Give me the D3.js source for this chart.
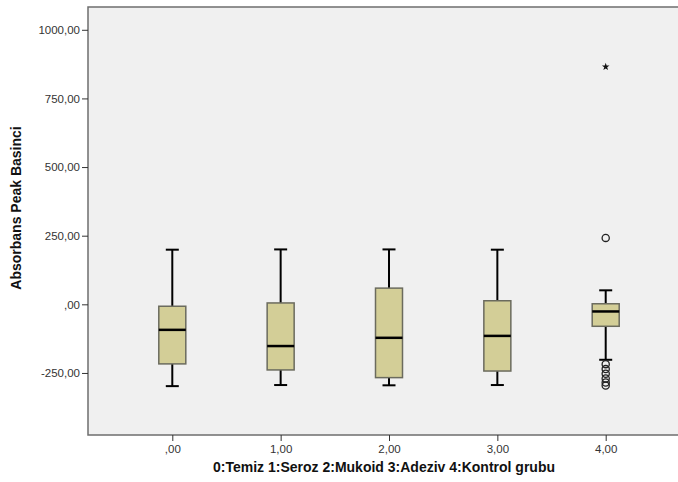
<!DOCTYPE html>
<html>
<head>
<meta charset="utf-8">
<script src="https://cdn.jsdelivr.net/npm/d3@7"></script>
<style>
  html, body { margin: 0; padding: 0; background: #ffffff; }
  svg { display: block; }
  text { font-family: Arial, "Liberation Sans", sans-serif; }
</style>
</head>
<body>
<svg id="chart" width="678" height="482"></svg>
<script>
// Group codes and their axis labels
const groups = [0, 1, 2, 3, 4];
const groupLabels = [",00", "1,00", "2,00", "3,00", "4,00"];

// Five-number summaries per group (Absorbans Peak Basıncı)
const whiskerLow  = [-298, -294, -295, -294, -202];
const boxLow      = [-217, -239, -267, -243, -80];
const medians     = [-93, -152, -122, -115, -26];
const boxHigh     = [-7, 5, 59, 13, 2];
const whiskerHigh = [199, 200, 200, 199, 51];

// Outliers of the control group
const outlierGroup = [4, 4, 4, 4, 4, 4, 4];
const outlierValues = [242, -218, -236, -253, -270, -285, -296];
// Extreme value of the control group
const extremeGroup = [4];
const extremeValues = [865];

// Y-axis ticks
const yTicks = [-250, 0, 250, 500, 750, 1000];
const yTickLabels = ["-250,00", ",00", "250,00", "500,00", "750,00", "1000,00"];

const svg = d3.select("#chart");
const plot = { left: 88, top: 7, right: 690, bottom: 435 };

const x = d3.scalePoint()
  .domain(groups)
  .range([plot.left, plot.right])
  .padding(0.778);

const y = d3.scaleLinear()
  .domain([-476, 1083])
  .range([plot.bottom, plot.top]);

// Plot background and frame
svg.append("rect")
  .attr("x", plot.left).attr("y", plot.top)
  .attr("width", plot.right - plot.left).attr("height", plot.bottom - plot.top)
  .attr("fill", "#f0f0f0")
  .attr("stroke", "#6e6e6e")
  .attr("stroke-width", 1.5);

// Y axis
const yAxis = d3.axisLeft(y)
  .tickValues(yTicks)
  .tickFormat((d, i) => yTickLabels[i])
  .tickSize(6)
  .tickPadding(2);
const gy = svg.append("g")
  .attr("transform", `translate(${plot.left},0)`)
  .call(yAxis);
gy.select(".domain").remove();
gy.selectAll(".tick line").attr("stroke", "#333").attr("stroke-width", 1);
gy.selectAll(".tick text").attr("fill", "#333").attr("font-size", "11.5px");

// X axis
const xAxis = d3.axisBottom(x)
  .tickFormat((d, i) => groupLabels[i])
  .tickSize(6)
  .tickPadding(4);
const gx = svg.append("g")
  .attr("transform", `translate(0,${plot.bottom})`)
  .call(xAxis);
gx.select(".domain").remove();
gx.selectAll(".tick line").attr("stroke", "#333").attr("stroke-width", 1);
gx.selectAll(".tick text").attr("fill", "#333").attr("font-size", "11.5px");

// Axis titles
svg.append("text")
  .attr("transform", `translate(21,208) rotate(-90)`)
  .attr("text-anchor", "middle")
  .attr("font-size", "14px")
  .attr("font-weight", "bold")
  .attr("fill", "#111")
  .text("Absorbans Peak Basinci");

svg.append("text")
  .attr("x", 384).attr("y", 472)
  .attr("text-anchor", "middle")
  .attr("font-size", "14px")
  .attr("font-weight", "bold")
  .attr("fill", "#111")
  .text("0:Temiz 1:Seroz 2:Mukoid 3:Adeziv 4:Kontrol grubu");

// Box plots
const boxW = 27, capW = 13;
const data = groups.map((g, i) => ({
  g, lo: whiskerLow[i], q1: boxLow[i], med: medians[i], q3: boxHigh[i], hi: whiskerHigh[i]
}));

const boxes = svg.append("g").selectAll("g").data(data).join("g");

// Whisker stems
boxes.append("line")
  .attr("x1", d => x(d.g)).attr("x2", d => x(d.g))
  .attr("y1", d => y(d.hi)).attr("y2", d => y(d.q3))
  .attr("stroke", "#000").attr("stroke-width", 2);
boxes.append("line")
  .attr("x1", d => x(d.g)).attr("x2", d => x(d.g))
  .attr("y1", d => y(d.q1)).attr("y2", d => y(d.lo))
  .attr("stroke", "#000").attr("stroke-width", 2);
// Whisker caps
boxes.append("line")
  .attr("x1", d => x(d.g) - capW / 2).attr("x2", d => x(d.g) + capW / 2)
  .attr("y1", d => y(d.hi)).attr("y2", d => y(d.hi))
  .attr("stroke", "#000").attr("stroke-width", 2);
boxes.append("line")
  .attr("x1", d => x(d.g) - capW / 2).attr("x2", d => x(d.g) + capW / 2)
  .attr("y1", d => y(d.lo)).attr("y2", d => y(d.lo))
  .attr("stroke", "#000").attr("stroke-width", 2);
// Boxes
boxes.append("rect")
  .attr("x", d => x(d.g) - boxW / 2)
  .attr("y", d => y(d.q3))
  .attr("width", boxW)
  .attr("height", d => y(d.q1) - y(d.q3))
  .attr("fill", "#d3ce97")
  .attr("stroke", "#6b6b5e")
  .attr("stroke-width", 1.5);
// Medians
boxes.append("line")
  .attr("x1", d => x(d.g) - boxW / 2).attr("x2", d => x(d.g) + boxW / 2)
  .attr("y1", d => y(d.med)).attr("y2", d => y(d.med))
  .attr("stroke", "#000").attr("stroke-width", 2.5);

// Outlier circles
svg.append("g").selectAll("circle")
  .data(outlierValues.map((v, i) => ({ g: outlierGroup[i], v })))
  .join("circle")
  .attr("cx", d => x(d.g)).attr("cy", d => y(d.v))
  .attr("r", 3.6)
  .attr("fill", "none")
  .attr("stroke", "#222")
  .attr("stroke-width", 1.3);

// Extreme values as stars
svg.append("g").selectAll("path")
  .data(extremeValues.map((v, i) => ({ g: extremeGroup[i], v })))
  .join("path")
  .attr("transform", d => `translate(${x(d.g)},${y(d.v)})`)
  .attr("d", d3.symbol(d3.symbolStar, 18)())
  .attr("fill", "#111");
</script>
</body>
</html>
